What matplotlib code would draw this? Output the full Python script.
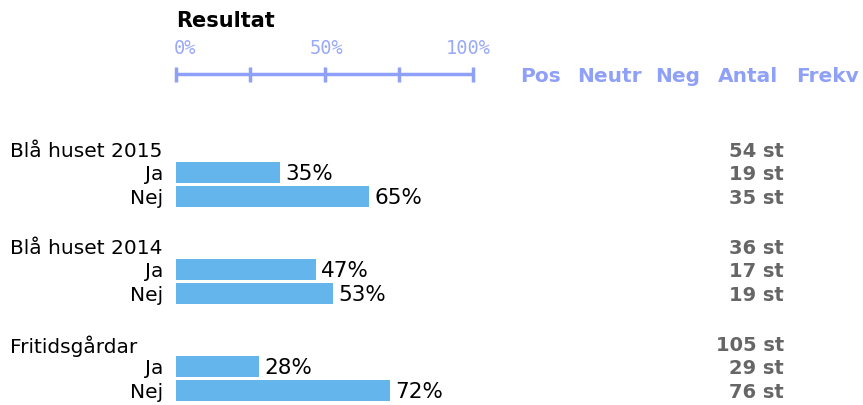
import matplotlib.pyplot as plt
import numpy as np

# data
groups = ['Blå huset 2015', 'Blå huset 2014', 'Fritidsgårdar']
answers = ['Ja', 'Nej']
ja_pct = [35, 47, 28]
nej_pct = [65, 53, 72]
totals = [54, 36, 105]
ja_count = [19, 17, 29]
nej_count = [35, 19, 76]
header_cols = ['Pos', 'Neutr', 'Neg', 'Antal', 'Frekv']

W, H = 863, 406
BAR_COLOR = '#63b5eb'
AXIS_COLOR = '#8fa0f8'
GRAY = '#666666'

fig = plt.figure(figsize=(W / 100, H / 100), dpi=100)
# axes spans the 0-100% scale horizontally, pixel rows vertically
x0, x1 = 176, 473
ax = fig.add_axes([x0 / W, 0, (x1 - x0) / W, 1])
ax.set_xlim(0, 100)
ax.set_ylim(H, 0)
ax.axis('off')


def px(x):
    # pixel column -> data x
    return (x - x0) / (x1 - x0) * 100


# title + scale
ax.text(0, 21, 'Resultat', fontsize=15, fontweight='bold', color='black',
        va='center', ha='left')
scale_ticks = [0, 25, 50, 75, 100]
ax.plot([0, 100], [75, 75], color=AXIS_COLOR, lw=2.5, solid_capstyle='butt', clip_on=False)
for t in scale_ticks:
    ax.plot([t, t], [68, 83], color=AXIS_COLOR, lw=2.5, solid_capstyle='butt', clip_on=False)
mono = dict(fontsize=13.5, color=AXIS_COLOR, va='center', family='DejaVu Sans Mono', alpha=0.9)
ax.text(px(174), 48, '0%', ha='left', **mono)
ax.text(px(327), 48, '50%', ha='center', **mono)
ax.text(px(491), 48, '100%', ha='right', **mono)

header_x = [540, 609, 678, 748, 827]
for name, hx in zip(header_cols, header_x):
    ax.text(px(hx), 76, name, fontsize=14.5, fontweight='bold', color=AXIS_COLOR,
            va='center', ha='center', clip_on=False)

# groups
group_top = 152
step = 97
for i, g in enumerate(groups):
    yt = group_top + i * step
    y_ja = yt + 21.5
    y_nej = yt + 45.5
    ax.text(px(10), yt, g, fontsize=14.5, va='center', ha='left', clip_on=False)
    ax.text(px(784), yt, f'{totals[i]} st', fontsize=14, fontweight='bold', color=GRAY,
            va='center', ha='right', clip_on=False)
    for y, lab, pct, cnt in [(y_ja, answers[0], ja_pct[i], ja_count[i]),
                             (y_nej, answers[1], nej_pct[i], nej_count[i])]:
        ax.barh(y, pct, height=21, left=0, color=BAR_COLOR)
        ax.text(px(163), y + 1, lab, fontsize=14.5, va='center', ha='right', clip_on=False)
        ax.text(pct + px(181), y + 1, f'{pct}%', fontsize=15.5, va='center', ha='left', clip_on=False)
        ax.text(px(784), y + 1, f'{cnt} st', fontsize=14, fontweight='bold', color=GRAY,
                va='center', ha='right', clip_on=False)

fig.savefig('out.png', dpi=100)
